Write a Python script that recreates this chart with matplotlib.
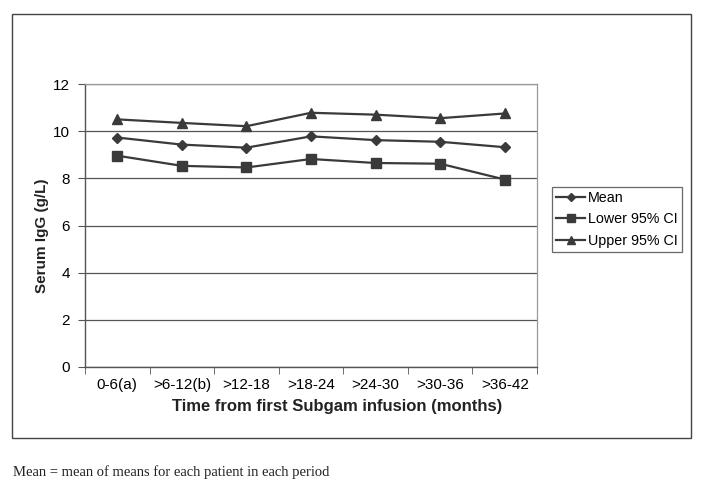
import matplotlib
matplotlib.use("Agg")
import matplotlib.pyplot as plt
from matplotlib.patches import Rectangle

categories = ["0-6(a)", ">6-12(b)", ">12-18", ">18-24", ">24-30", ">30-36", ">36-42"]
mean_vals = [9.73, 9.43, 9.30, 9.78, 9.62, 9.55, 9.32]
lower_vals = [8.96, 8.53, 8.46, 8.82, 8.65, 8.62, 7.95]
upper_vals = [10.50, 10.35, 10.21, 10.78, 10.70, 10.55, 10.75]
yticks = [0, 2, 4, 6, 8, 10, 12]

plt.rcParams['font.family'] = ['Liberation Sans', 'DejaVu Sans']

fig = plt.figure(figsize=(7.02, 4.95), dpi=100)
ax = fig.add_axes([85/702, 1 - 367/495, (537-85)/702, (367-84)/495])

x = list(range(len(categories)))
lc = '#3a3a3a'
ax.plot(x, mean_vals, color=lc, lw=1.6, marker='D', ms=5.5, label='Mean')
ax.plot(x, lower_vals, color=lc, lw=1.6, marker='s', ms=7, label='Lower 95% CI')
ax.plot(x, upper_vals, color=lc, lw=1.6, marker='^', ms=7.5, label='Upper 95% CI')

ax.set_xlim(-0.5, len(categories) - 0.5)
ax.set_ylim(0, 12)
ax.set_yticks(yticks)
ax.set_yticklabels([str(v) for v in yticks], fontsize=11)
ax.yaxis.grid(True, color='#555555', lw=0.9)
ax.set_axisbelow(True)

ax.set_xticks(x)
ax.set_xticklabels(categories, fontsize=11)
ax.set_xticks([i - 0.5 for i in range(len(categories) + 1)], minor=True)
ax.tick_params(axis='x', which='major', length=0, pad=8)
ax.tick_params(axis='x', which='minor', length=5, color='#555555')
ax.tick_params(axis='y', length=5, color='#555555', pad=6)

for s in ['top', 'right']:
    ax.spines[s].set_color('#999999')
    ax.spines[s].set_linewidth(0.9)
for s in ['left', 'bottom']:
    ax.spines[s].set_color('#555555')
    ax.spines[s].set_linewidth(1.0)

ax.set_xlabel('Time from first Subgam infusion (months)', fontsize=12,
              fontweight='bold', color='#222222', labelpad=5)
ax.xaxis.label.set_x((337 - 85) / (537 - 85))
ax.set_ylabel('Serum IgG (g/L)', fontsize=11, fontweight='bold',
              color='#222222', labelpad=3)
ax.yaxis.label.set_y((367 - 236) / (367 - 84))

leg = ax.legend(loc='upper left', bbox_to_anchor=(552/702, 1 - 187/495),
                bbox_transform=fig.transFigure, fontsize=10.3, frameon=True,
                fancybox=False, edgecolor='#444444', handlelength=2.0,
                handletextpad=0.2, borderpad=0.3, borderaxespad=0,
                labelspacing=0.5, markerscale=0.8)
leg.get_frame().set_linewidth(0.9)

fig.patches.append(Rectangle((12/702, 1 - 438/495), (691-12)/702, (438-14)/495,
                             transform=fig.transFigure, fill=False,
                             edgecolor='#444444', lw=1.0))

fig.text(13/702, 1 - 472/495, 'Mean = mean of means for each patient in each period',
         fontsize=10.5, family=['Liberation Serif', 'DejaVu Serif'], va='center',
         color='#222222')

fig.savefig('out.png', dpi=100)
